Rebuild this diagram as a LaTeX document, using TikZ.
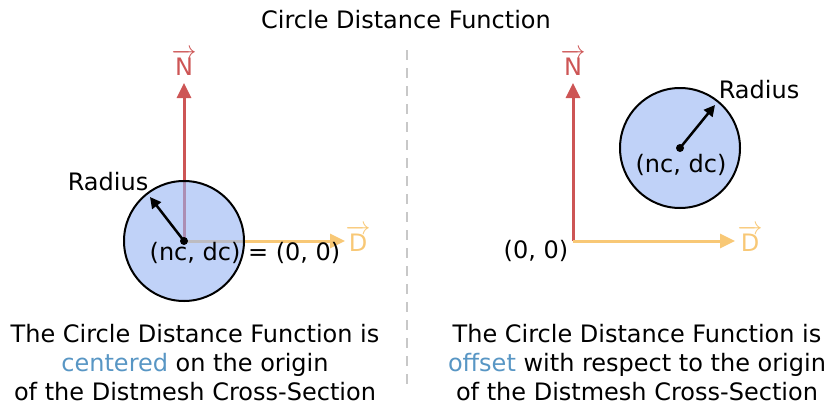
\documentclass[tikz,border=0pt]{standalone}
\usepackage{fontspec}
\setmainfont{DejaVu Sans}
\usetikzlibrary{arrows.meta}
\definecolor{axisred}{RGB}{205,85,85}
\definecolor{axisyellow}{RGB}{248,200,118}
\definecolor{circfill}{RGB}{150,180,243}
\definecolor{hiblue}{RGB}{88,150,196}
\definecolor{sepgray}{RGB}{200,200,200}
\tikzset{
  lbl/.style={inner sep=0pt, anchor=base, font=\fontsize{24}{29}\selectfont},
  naxis/.style={axisred, line width=3pt, -{Triangle[length=15pt,width=14pt]}},
  daxis/.style={axisyellow, line width=3pt, -{Triangle[length=15pt,width=14pt]}},
  circ/.style={circle, draw=black, line width=2pt, fill=circfill, fill opacity=0.6, minimum size=120pt, inner sep=0pt},
  dot/.style={circle, fill=black, minimum size=8pt, inner sep=0pt},
  radarrow/.style={black, line width=2.5pt, -{Triangle[length=11pt,width=11pt]}},
  sep/.style={sepgray, line width=2.5pt, dash pattern=on 10pt off 8pt},
}
\newcommand{\vecl}[1]{$\overrightarrow{\hbox{#1}}$}
\begin{document}
\begin{tikzpicture}[x=1pt,y=-1pt]
\useasboundingbox (0,0) rectangle (829,407);
% title
\node[lbl] (title) at (406,28) {Circle Distance Function};
% separator
\coordinate (s1) at (407,50);
\coordinate (s2) at (407,386);
\draw[sep] (s1) -- (s2);

% ---------- left panel ----------
\coordinate (o1) at (184,241);
\coordinate (n1) at (184,83);
\coordinate (d1) at (345,241);
\draw[naxis] (o1) -- (n1);
\draw[daxis] (o1) -- (d1);
\node[circ] (c1) at (o1) {};
\node[dot] (p1) at (o1) {};
\coordinate (r1) at (150,197);
\draw[radarrow] (p1.center) -- (r1);
\node[lbl, text=axisred] (N1) at (184,75) {\vecl{N}};
\node[lbl, text=axisyellow] (D1) at (358,251) {\vecl{D}};
\node[lbl] (rad1) at (108,190) {Radius};
\node[lbl] (nc1) at (245,260) {(nc, dc) = (0, 0)};
\node[lbl, align=center, anchor=base] (t1) at (195,400) {The Circle Distance Function is\\\textcolor{hiblue}{centered} on the origin\\of the Distmesh Cross-Section};

% ---------- right panel ----------
\coordinate (o2) at (573,241);
\coordinate (n2) at (573,83);
\coordinate (d2) at (735,241);
\draw[naxis] (o2) -- (n2);
\draw[daxis] (o2) -- (d2);
\node[circ] (c2) at (680,148) {};
\node[dot] (p2) at (680,148) {};
\coordinate (r2) at (715,105);
\draw[radarrow] (p2.center) -- (r2);
\node[lbl, text=axisred] (N2) at (573,75) {\vecl{N}};
\node[lbl, text=axisyellow] (D2) at (750,251) {\vecl{D}};
\node[lbl] (rad2) at (759,98) {Radius};
\node[lbl] (nc2) at (681,172) {(nc, dc)};
\node[lbl] (zero2) at (536,258) {(0, 0)};
\node[lbl, align=center, anchor=base] (t2) at (637,400) {The Circle Distance Function is\\\textcolor{hiblue}{offset} with respect to the origin\\of the Distmesh Cross-Section};
\end{tikzpicture}
\end{document}
